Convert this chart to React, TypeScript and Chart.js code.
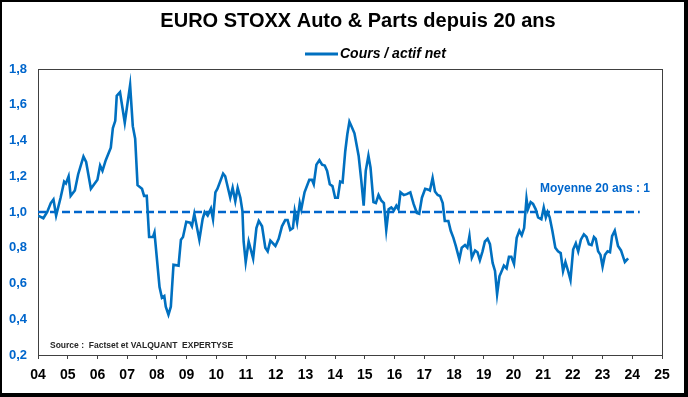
import React, { useEffect, useRef } from "react";
import { Chart, registerables } from "chart.js";

Chart.register(...registerables);

const TITLE = "EURO STOXX Auto & Parts depuis 20 ans";
const SERIES_LABEL = "Cours / actif net";
const AVG_LABEL = "Moyenne 20 ans : 1";
const SOURCE_TEXT = "Source :  Factset et VALQUANT  EXPERTYSE";

const X_MIN = 2004;
const X_MAX = 2025;
const Y_MIN = 0.2;
const Y_MAX = 1.8;
const Y_STEP = 0.2;

const AVG_VALUE = 1;
const AVG_START = 2004;
const AVG_END = 2024.25;

const DATES = [
  2004.0, 2004.18, 2004.31, 2004.43, 2004.52, 2004.61, 2004.76, 2004.88, 2004.94, 2005.03,
  2005.1, 2005.24, 2005.35, 2005.53, 2005.62, 2005.78, 2006.0, 2006.09, 2006.17, 2006.28,
  2006.45, 2006.52, 2006.6, 2006.65, 2006.76, 2006.92, 2007.1, 2007.19, 2007.27, 2007.35,
  2007.5, 2007.57, 2007.66, 2007.74, 2007.87, 2007.92, 2008.09, 2008.17, 2008.25, 2008.3,
  2008.39, 2008.47, 2008.56, 2008.73, 2008.81, 2008.88, 2008.99, 2009.12, 2009.18, 2009.26,
  2009.43, 2009.54, 2009.61, 2009.71, 2009.82, 2009.89, 2009.97, 2010.04, 2010.23, 2010.3,
  2010.47, 2010.55, 2010.64, 2010.72, 2010.81, 2010.88, 2010.92, 2010.99, 2011.09, 2011.24,
  2011.35, 2011.43, 2011.54, 2011.65, 2011.73, 2011.82, 2011.99, 2012.1, 2012.21, 2012.32,
  2012.4, 2012.49, 2012.58, 2012.64, 2012.72, 2012.81, 2012.86, 2012.97, 2013.13, 2013.22,
  2013.28, 2013.37, 2013.47, 2013.56, 2013.65, 2013.73, 2013.82, 2013.91, 2014.0, 2014.09,
  2014.17, 2014.25, 2014.34, 2014.41, 2014.48, 2014.56, 2014.65, 2014.79, 2014.88, 2014.96,
  2015.03, 2015.12, 2015.19, 2015.29, 2015.37, 2015.46, 2015.55, 2015.64, 2015.72, 2015.8,
  2015.89, 2015.98, 2016.06, 2016.13, 2016.2, 2016.31, 2016.41, 2016.53, 2016.64, 2016.75,
  2016.83, 2016.92, 2017.03, 2017.14, 2017.19, 2017.28, 2017.36, 2017.45, 2017.53, 2017.62,
  2017.69, 2017.81, 2017.89, 2017.98, 2018.06, 2018.18, 2018.26, 2018.37, 2018.45, 2018.52,
  2018.6, 2018.71, 2018.79, 2018.87, 2018.96, 2019.04, 2019.13, 2019.21, 2019.3, 2019.38,
  2019.45, 2019.53, 2019.62, 2019.68, 2019.77, 2019.85, 2019.93, 2020.02, 2020.11, 2020.2,
  2020.28, 2020.36, 2020.44, 2020.49, 2020.58, 2020.66, 2020.75, 2020.83, 2020.94, 2021.02,
  2021.09, 2021.15, 2021.22, 2021.31, 2021.41, 2021.5, 2021.59, 2021.67, 2021.75, 2021.84,
  2021.92, 2022.01, 2022.1, 2022.18, 2022.27, 2022.37, 2022.46, 2022.54, 2022.63, 2022.71,
  2022.77, 2022.85, 2022.93, 2023.0, 2023.08, 2023.17, 2023.25, 2023.32, 2023.41, 2023.52,
  2023.62, 2023.75, 2023.86,
];

const VALUES = [
  0.98, 0.965, 1.0, 1.05, 1.07, 0.98, 1.08, 1.17, 1.16, 1.2,
  1.09, 1.12, 1.21, 1.31, 1.28, 1.13, 1.18, 1.26, 1.23, 1.29,
  1.36, 1.47, 1.51, 1.65, 1.67, 1.5, 1.71, 1.48, 1.41, 1.15,
  1.13, 1.09, 1.09, 0.86, 0.86, 0.885, 0.58, 0.52, 0.53, 0.47,
  0.425, 0.47, 0.705, 0.7, 0.845, 0.86, 0.945, 0.94, 0.92, 0.99,
  0.845, 0.96, 1.0, 0.98, 1.02, 0.96, 1.11, 1.13, 1.215, 1.2,
  1.08, 1.135, 1.06, 1.135, 1.08, 1.005, 0.835, 0.72, 0.835, 0.74,
  0.91, 0.95, 0.92, 0.8, 0.78, 0.84, 0.81, 0.85, 0.92, 0.955,
  0.955, 0.9, 0.91, 1.005, 0.94, 1.05, 1.015, 1.11, 1.18, 1.18,
  1.155, 1.265, 1.29, 1.265, 1.26, 1.23, 1.155, 1.145, 1.08, 1.08,
  1.17, 1.165, 1.34, 1.435, 1.505, 1.475, 1.44, 1.315, 1.175, 1.035,
  1.23, 1.315, 1.25, 1.055, 1.05, 1.095, 1.065, 1.05, 0.9, 1.015,
  1.025, 1.01, 1.035, 1.015, 1.11, 1.095, 1.1, 1.11, 1.045, 0.995,
  0.99, 1.08, 1.13, 1.125, 1.12, 1.19, 1.115, 1.095, 1.09, 1.05,
  0.95, 0.95, 0.895, 0.855, 0.81, 0.735, 0.8, 0.815, 0.8, 0.865,
  0.745, 0.785, 0.775, 0.73, 0.78, 0.835, 0.85, 0.82, 0.715, 0.67,
  0.54, 0.64, 0.675, 0.7, 0.685, 0.75, 0.75, 0.71, 0.855, 0.895,
  0.87, 0.91, 1.075, 1.015, 1.055, 1.045, 1.015, 0.97, 0.96, 1.025,
  0.97, 1.0, 0.97, 0.895, 0.8, 0.78, 0.77, 0.67, 0.72, 0.67,
  0.62, 0.79, 0.825, 0.78, 0.845, 0.875, 0.86, 0.82, 0.815, 0.86,
  0.85, 0.78, 0.76, 0.695, 0.76, 0.78, 0.775, 0.865, 0.895, 0.81,
  0.785, 0.72, 0.74,
];

const FONT = '"Liberation Sans", Arial, Helvetica, sans-serif';
const LINE_BLUE = "#0070C0";
const TEXT_BLUE = "#0066CC";

const decorPlugin = {
  id: "decor",
  beforeDraw(chart: any) {
    const ctx = chart.ctx;
    ctx.save();
    ctx.fillStyle = "#ffffff";
    ctx.fillRect(0, 0, chart.width, chart.height);
    ctx.restore();
  },
  beforeDatasetsDraw(chart: any) {
    const { ctx, chartArea } = chart;
    ctx.save();
    ctx.strokeStyle = "#404040";
    ctx.lineWidth = 1;
    ctx.strokeRect(
      Math.round(chartArea.left) + 0.5,
      Math.round(chartArea.top) + 0.5,
      Math.round(chartArea.right - chartArea.left),
      Math.round(chartArea.bottom - chartArea.top)
    );
    ctx.restore();
  },
  afterDraw(chart: any) {
    const { ctx, width, height } = chart;
    ctx.save();
    // title
    ctx.fillStyle = "#000000";
    ctx.font = `bold 20px ${FONT}`;
    ctx.textAlign = "center";
    ctx.textBaseline = "middle";
    ctx.fillText(TITLE, 358, 21);
    // legend
    ctx.strokeStyle = LINE_BLUE;
    ctx.lineWidth = 3;
    ctx.beginPath();
    ctx.moveTo(305, 54);
    ctx.lineTo(338, 54);
    ctx.stroke();
    ctx.font = `italic bold 14px ${FONT}`;
    ctx.textAlign = "left";
    ctx.fillText(SERIES_LABEL, 340, 54);
    // average label
    ctx.fillStyle = TEXT_BLUE;
    ctx.font = `bold 12px ${FONT}`;
    ctx.fillText(AVG_LABEL, 540, 189);
    // source
    ctx.fillStyle = "#262626";
    ctx.font = `bold 8.5px ${FONT}`;
    ctx.fillText(SOURCE_TEXT, 50, 346);
    // outer frame
    ctx.fillStyle = "#000000";
    ctx.fillRect(0, 0, width, 2);
    ctx.fillRect(0, 0, 2, height);
    ctx.fillRect(width - 4, 0, 4, height);
    ctx.fillRect(0, height - 4, width, 4);
    ctx.restore();
  },
};

export default function App() {
  const canvasRef = useRef<HTMLCanvasElement | null>(null);

  useEffect(() => {
    if (!canvasRef.current) return;
    const series = DATES.map((d, i) => ({ x: d, y: VALUES[i] }));
    const avg = [
      { x: AVG_START, y: AVG_VALUE },
      { x: AVG_END, y: AVG_VALUE },
    ];
    const chart = new Chart(canvasRef.current, {
      type: "line",
      data: {
        datasets: [
          {
            label: SERIES_LABEL,
            data: series,
            borderColor: LINE_BLUE,
            borderWidth: 2.6,
            pointRadius: 0,
            tension: 0,
            fill: false,
          },
          {
            label: AVG_LABEL,
            data: avg,
            borderColor: TEXT_BLUE,
            borderWidth: 2.5,
            borderDash: [8, 4],
            pointRadius: 0,
            tension: 0,
            fill: false,
          },
        ],
      },
      options: {
        responsive: false,
        animation: false,
        devicePixelRatio: 1,
        layout: { padding: { top: 69, right: 26, bottom: 0, left: 0 } },
        plugins: {
          legend: { display: false },
          title: { display: false },
          tooltip: { enabled: false },
        },
        scales: {
          x: {
            type: "linear",
            min: X_MIN,
            max: X_MAX,
            afterFit: (scale: any) => {
              scale.height = 42;
            },
            ticks: {
              stepSize: 1,
              autoSkip: false,
              maxRotation: 0,
              padding: 8,
              color: "#000000",
              font: { family: FONT, size: 14, weight: "bold" },
              callback: (v: any) => String(Math.round(Number(v)) - 2000).padStart(2, "0"),
            },
            grid: {
              display: true,
              drawOnChartArea: false,
              drawTicks: true,
              tickLength: 4,
              color: "#404040",
            },
            border: { display: true, color: "#404040" },
          },
          y: {
            min: Y_MIN,
            max: Y_MAX,
            afterFit: (scale: any) => {
              scale.width = 38;
            },
            ticks: {
              stepSize: Y_STEP,
              padding: 11,
              color: TEXT_BLUE,
              font: { family: FONT, size: 13, weight: "bold" },
              callback: (v: any) => Number(v).toFixed(1).replace(".", ","),
            },
            grid: { display: false, drawTicks: false },
            border: { display: true, color: "#404040" },
          },
        },
      },
      plugins: [decorPlugin],
    });
    return () => chart.destroy();
  }, []);

  return (
    <div style={{ position: "absolute", left: 0, top: 0, width: 688, height: 397, background: "#fff" }}>
      <canvas ref={canvasRef} width={688} height={397} style={{ display: "block" }} />
    </div>
  );
}
